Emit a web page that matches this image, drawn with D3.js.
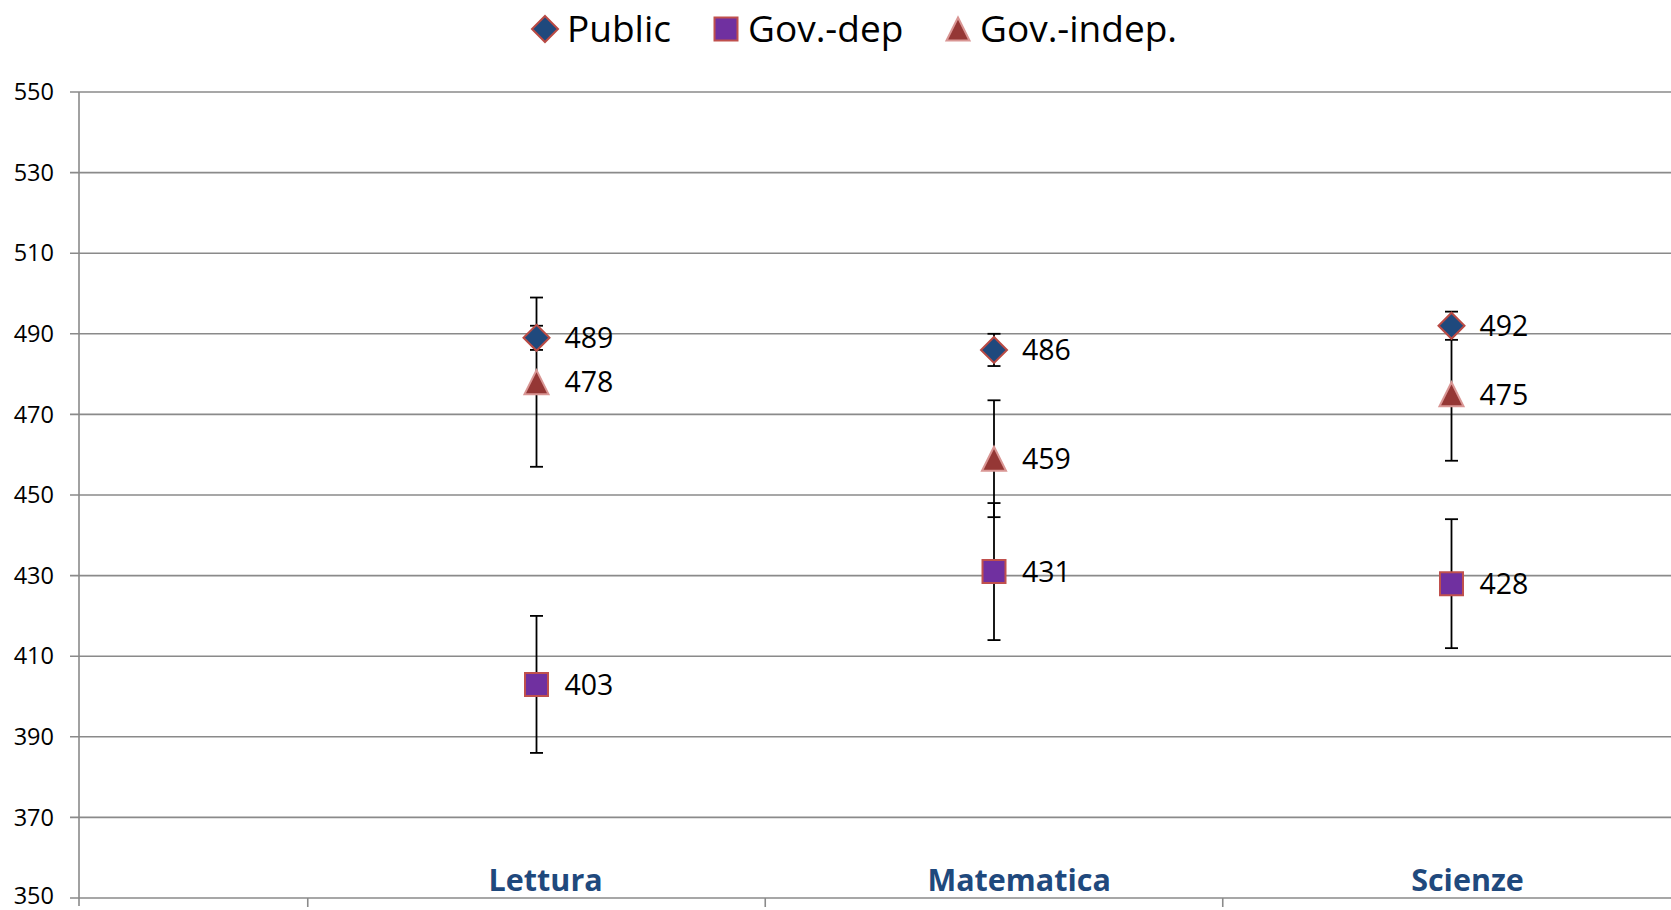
<!DOCTYPE html>
<html><head><meta charset="utf-8">
<script src="https://cdn.jsdelivr.net/npm/d3@7"></script>
<style>body{margin:0;background:#fff}svg{display:block}</style>
</head><body>
<script>
const categories = ["Lettura", "Matematica", "Scienze"];
const categoryPos = [1, 2, 3];
const categoryLabelPos = [1.02, 2.055, 3.035];
const seriesNames = ["Public", "Gov.-dep", "Gov.-indep."];
const publicValues = [489, 486, 492];
const publicErr = [3, 4, 3.5];
const govDepValues = [403, 431, 428];
const govDepErr = [17, 17, 16];
const govIndepValues = [478, 459, 475];
const govIndepErr = [21, 14.5, 16.5];
const yTicks = [350, 370, 390, 410, 430, 450, 470, 490, 510, 530, 550];
const xBoundaryTicks = [0.5, 1.5, 2.5];

const W = 1671, H = 910;
const margin = {left: 79, top: 92, bottom: 12};
const svg = d3.select("body").append("svg").attr("width", W).attr("height", H);

const y = d3.scaleLinear().domain([350, 550]).range([H - margin.bottom, margin.top]);
const x = d3.scaleLinear().domain([0, 3.5]).range([margin.left, margin.left + 3.5 * 457.5]);

const gridColor = "#8a8a8a";
svg.append("g").selectAll("line").data(yTicks).join("line")
  .attr("x1", margin.left - 9).attr("x2", W)
  .attr("y1", d => y(d)).attr("y2", d => y(d))
  .attr("stroke", gridColor).attr("stroke-width", 1.6);
svg.append("line").attr("x1", margin.left).attr("x2", margin.left)
  .attr("y1", y(550)).attr("y2", y(350) + 8)
  .attr("stroke", gridColor).attr("stroke-width", 1.6);
svg.append("g").selectAll("text").data(yTicks).join("text")
  .attr("x", 54).attr("y", d => y(d)).attr("dy", d => d === 350 ? "0.25em" : "0.35em")
  .attr("text-anchor", "end")
  .attr("font-family", "Open Sans, sans-serif").attr("font-size", 23.5).attr("fill", "#000")
  .text(d => d);
svg.append("g").selectAll("line").data(xBoundaryTicks).join("line")
  .attr("x1", d => x(d)).attr("x2", d => x(d))
  .attr("y1", y(350)).attr("y2", y(350) + 9)
  .attr("stroke", gridColor).attr("stroke-width", 1.6);
svg.append("g").selectAll("text").data(categories).join("text")
  .attr("x", (d, i) => x(categoryLabelPos[i])).attr("y", y(350) - 18).attr("dy", "0.35em")
  .attr("text-anchor", "middle")
  .attr("font-family", "Open Sans, sans-serif").attr("font-weight", "bold")
  .attr("font-size", 30.5).attr("fill", "#1F497D")
  .text(d => d);

function markerPath(type, s) {
  const h = s / 2;
  if (type === "diamond") return `M0,${-h}L${h},0L0,${h}L${-h},0Z`;
  if (type === "square") return `M${-h},${-h}H${h}V${h}H${-h}Z`;
  return `M0,${-h}L${h},${h}L${-h},${h}Z`;
}

const series = [
  {name: seriesNames[0], values: publicValues, err: publicErr, type: "diamond", size: 26, fill: "#1F497D", stroke: "#B94A44"},
  {name: seriesNames[1], values: govDepValues, err: govDepErr, type: "square", size: 23, fill: "#7030A0", stroke: "#C0504D"},
  {name: seriesNames[2], values: govIndepValues, err: govIndepErr, type: "triangle", size: 24, fill: "#953735", stroke: "#D99694"}
];

series.forEach(s => {
  const g = svg.append("g");
  s.values.forEach((v, i) => {
    const cx = x(categoryPos[i]);
    const lo = y(v - s.err[i]), hi = y(v + s.err[i]);
    g.append("line").attr("x1", cx).attr("x2", cx).attr("y1", lo).attr("y2", hi)
      .attr("stroke", "#000").attr("stroke-width", 1.8);
    [lo, hi].forEach(yy => g.append("line").attr("x1", cx - 6.5).attr("x2", cx + 6.5)
      .attr("y1", yy).attr("y2", yy).attr("stroke", "#000").attr("stroke-width", 1.8));
  });
});
series.forEach(s => {
  const g = svg.append("g");
  g.selectAll("path").data(s.values).join("path")
    .attr("transform", (d, i) => `translate(${x(categoryPos[i])},${y(d)})`)
    .attr("d", markerPath(s.type, s.size))
    .attr("fill", s.fill).attr("stroke", s.stroke).attr("stroke-width", 2);
  g.selectAll("text").data(s.values).join("text")
    .attr("x", (d, i) => x(categoryPos[i]) + 28).attr("y", d => y(d)).attr("dy", "0.36em")
    .attr("font-family", "Open Sans, sans-serif").attr("font-size", 28.5).attr("fill", "#000")
    .text(d => d);
});

const legendX = [545, 726, 958];
const lg = svg.append("g");
series.forEach((s, i) => {
  lg.append("path").attr("transform", `translate(${legendX[i]},29)`)
    .attr("d", markerPath(s.type, s.type === "diamond" ? 26 : 23))
    .attr("fill", s.fill).attr("stroke", s.stroke).attr("stroke-width", 2);
  lg.append("text").attr("x", legendX[i] + 22).attr("y", 29).attr("dy", "0.35em")
    .attr("font-family", "Open Sans, sans-serif").attr("font-size", 37).attr("fill", "#000")
    .text(s.name);
});
</script>
</body></html>
